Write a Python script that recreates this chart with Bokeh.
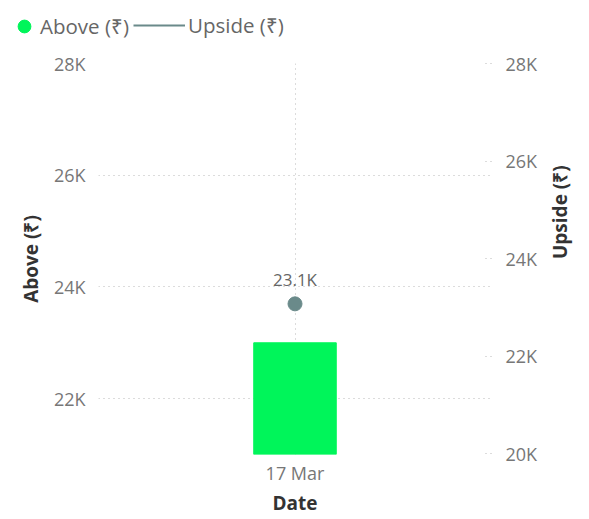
import math
from bokeh.plotting import figure
from bokeh.layouts import column
from bokeh.models import (FactorRange, Range1d, LinearAxis, FixedTicker, CustomJSTickFormatter,
                          Legend, LegendItem, ColumnDataSource)
from bokeh.embed import file_html
from bokeh.resources import INLINE
from bokeh.core.properties import value

# ---- data ----
dates = ["17 Mar"]
above = [23000]
upside = [23070]
left_ticks = [22000, 24000, 26000, 28000]
right_ticks = [20000, 22000, 24000, 26000, 28000]
left_range = (21000, 28000)
right_range = (19980, 28000)
series_names = ["Above (₹)", "Upside (₹)"]

labels = [f"{v/1000:.1f}K" for v in upside]

FONT = "Open Sans"
GREEN = "#00F55A"
TEAL = "#6A8A8A"
TICK_COL = "#777777"
TITLE_COL = "#333333"
GRID_COL = "#B8B8B8"

src = ColumnDataSource(dict(date=dates, above=above, upside=upside, label=labels,
                            base=[left_range[0]] * len(dates)))

# ---- main chart ----
LEG_H = 42
p = figure(x_range=FactorRange(factors=dates), y_range=Range1d(*left_range),
           width=589, height=519 - LEG_H, output_backend="svg", toolbar_location=None,
           min_border_left=98, min_border_right=93, min_border_top=63 - LEG_H, min_border_bottom=65)
p.frame_align = False
p.outline_line_color = None
p.background_fill_color = "white"
p.border_fill_color = "white"
p.extra_y_ranges = {"up": Range1d(*right_range)}

fmt = CustomJSTickFormatter(code="return (tick/1000).toFixed(0) + 'K'")

# left axis
ya = p.yaxis[0]
ya.ticker = FixedTicker(ticks=left_ticks)
ya.formatter = fmt
ya.axis_label = series_names[0]
ya.axis_line_color = None
ya.major_tick_line_color = None
ya.minor_tick_line_color = None
ya.major_label_standoff = 7
ya.axis_label_standoff = 7
ya.major_label_text_font = FONT
ya.major_label_text_font_size = "18px"
ya.major_label_text_color = TICK_COL
ya.axis_label_text_font = FONT
ya.axis_label_text_font_size = "19px"
ya.axis_label_text_font_style = "bold"
ya.axis_label_text_color = TITLE_COL

# right axis
ra = LinearAxis(y_range_name="up", ticker=FixedTicker(ticks=right_ticks), formatter=fmt,
                axis_label=series_names[1])
ra.axis_line_color = None
ra.major_tick_in = 8
ra.major_tick_out = 0
ra.major_tick_line_color = GRID_COL
ra.major_tick_line_dash = "1 4"
ra.minor_tick_line_color = None
ra.major_label_standoff = 14
ra.axis_label_standoff = 20
ra.axis_label_orientation = math.pi / 2
ra.major_label_text_font = FONT
ra.major_label_text_font_size = "18px"
ra.major_label_text_color = TICK_COL
ra.axis_label_text_font = FONT
ra.axis_label_text_font_size = "19px"
ra.axis_label_text_font_style = "bold"
ra.axis_label_text_color = TITLE_COL
p.add_layout(ra, "right")

# x axis
xa = p.xaxis[0]
xa.axis_label = "Date"
xa.axis_line_color = None
xa.major_tick_line_color = None
xa.major_label_standoff = 0
xa.axis_label_standoff = 2
xa.major_label_text_font = FONT
xa.major_label_text_font_size = "18px"
xa.major_label_text_color = TICK_COL
xa.axis_label_text_font = FONT
xa.axis_label_text_font_size = "19px"
xa.axis_label_text_font_style = "bold"
xa.axis_label_text_color = TITLE_COL

# grids
p.ygrid.grid_line_color = GRID_COL
p.ygrid.grid_line_dash = "1 4"
p.xgrid.grid_line_color = GRID_COL
p.xgrid.grid_line_dash = "1 4"

# series
p.vbar(x="date", top="above", bottom="base", width=0.21, color=GREEN, source=src)
p.line(x="date", y="upside", y_range_name="up", line_color=TEAL, line_width=2, source=src)
p.scatter(x="date", y="upside", y_range_name="up", size=14, color=TEAL, source=src)
p.text(x="date", y="upside", text="label", y_range_name="up", source=src,
       text_align="center", text_baseline="bottom", y_offset=-13,
       text_font=value(FONT), text_font_size="17px", text_color="#666666")

# ---- legend strip (legend proxies lie outside this strip's y range) ----
lg = figure(width=589, height=LEG_H, output_backend="svg", toolbar_location=None,
            x_range=FactorRange(factors=dates), y_range=Range1d(0, 1),
            min_border_left=0, min_border_right=0, min_border_top=0, min_border_bottom=0)
lg.frame_align = False
lg.axis.visible = False
lg.grid.visible = False
lg.outline_line_color = None
lg.background_fill_color = "white"
lg.border_fill_color = "white"
leg_dot = lg.scatter(x="date", y="above", size=12, color=GREEN, source=src)
leg_line = lg.line(x="date", y="upside", line_color=TEAL, line_width=2, source=src)

leg1 = Legend(items=[LegendItem(label=series_names[0], renderers=[leg_dot])],
              location=(8, 0), orientation="horizontal",
              glyph_width=32, glyph_height=32, label_standoff=-7,
              padding=0, margin=0, spacing=0, border_line_color=None,
              background_fill_alpha=0, label_text_font=FONT, label_text_font_size="20.5px",
              label_text_color="#666666")
leg2 = Legend(items=[LegendItem(label=series_names[1], renderers=[leg_line])],
              location=(133, 3), orientation="horizontal",
              glyph_width=52, glyph_height=28, label_standoff=3,
              padding=0, margin=0, spacing=0, border_line_color=None,
              background_fill_alpha=0, label_text_font=FONT, label_text_font_size="20.5px",
              label_text_color="#666666")
lg.add_layout(leg1, "center")
lg.add_layout(leg2, "center")

layout = column(lg, p, spacing=0)
open("out.html", "w").write(file_html(layout, INLINE))
